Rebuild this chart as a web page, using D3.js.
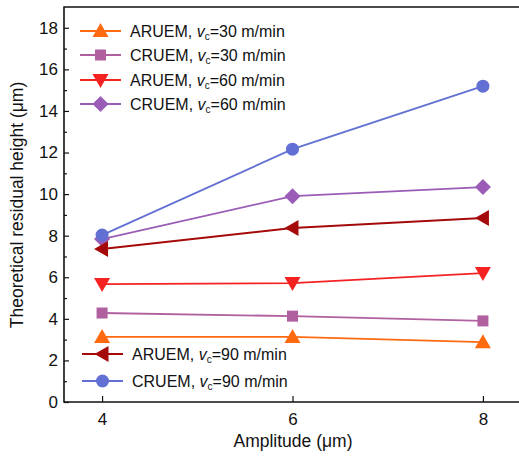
<!DOCTYPE html>
<html><head><meta charset="utf-8">
<script src="https://cdn.jsdelivr.net/npm/d3@7"></script>
<style>body{margin:0;background:#fff}svg{display:block}text{font-family:"Liberation Sans",Arial,sans-serif}</style>
</head><body><svg id="c" width="519" height="457"></svg>
<script>
const amplitudes = [4, 6, 8];
const seriesNames = ["ARUEM, vc=30 m/min","CRUEM, vc=30 m/min","ARUEM, vc=60 m/min","CRUEM, vc=60 m/min","ARUEM, vc=90 m/min","CRUEM, vc=90 m/min"];
const aruem30 = [3.13, 3.13, 2.88];
const cruem30 = [4.28, 4.13, 3.90];
const aruem60 = [5.67, 5.72, 6.20];
const cruem60 = [7.84, 9.90, 10.34];
const aruem90 = [7.36, 8.37, 8.85];
const cruem90 = [8.03, 12.16, 15.19];
const yTicks = [0,2,4,6,8,10,12,14,16,18];
const xTicks = [4,6,8];

const series = [
  {name:"ARUEM", vc:"30", vals:aruem30, color:"#ff6a10", sym:"tri-up"},
  {name:"CRUEM", vc:"30", vals:cruem30, color:"#b0609f", sym:"square"},
  {name:"ARUEM", vc:"60", vals:aruem60, color:"#f52222", sym:"tri-down"},
  {name:"CRUEM", vc:"60", vals:cruem60, color:"#9a5cb6", sym:"diamond"},
  {name:"ARUEM", vc:"90", vals:aruem90, color:"#a50a0a", sym:"tri-left"},
  {name:"CRUEM", vc:"90", vals:cruem90, color:"#6170d2", sym:"circle"}
];

const svg = d3.select("#c");
const L=64, T=7, B=402, R=521;
const x = d3.scaleLinear().domain([3.6, 8.4]).range([L, R]);
const y = d3.scaleLinear().domain([0, 19]).range([B, T]);

function marker(g, sym, cx, cy, color){
  const s=8;
  let p;
  if(sym==="circle"){ g.append("circle").attr("cx",cx).attr("cy",cy).attr("r",6.5).attr("fill",color); return; }
  if(sym==="square"){ g.append("rect").attr("x",cx-5.5).attr("y",cy-5.5).attr("width",11).attr("height",11).attr("fill",color); return; }
  if(sym==="tri-up") p=[[cx,cy-s],[cx+s,cy+s*0.75],[cx-s,cy+s*0.75]];
  if(sym==="tri-down") p=[[cx,cy+s],[cx+s,cy-s*0.75],[cx-s,cy-s*0.75]];
  if(sym==="tri-left") p=[[cx-s,cy],[cx+s*0.75,cy-s],[cx+s*0.75,cy+s]];
  if(sym==="diamond") p=[[cx,cy-8],[cx+8,cy],[cx,cy+8],[cx-8,cy]];
  g.append("polygon").attr("points",p.map(d=>d.join(",")).join(" ")).attr("fill",color);
}

// axes
const minor = d3.range(1,19,2);
const yAxis = svg.append("g").attr("transform",`translate(${L},0)`)
  .call(d3.axisLeft(y).tickValues(yTicks).tickSize(-5).tickPadding(6).tickFormat(d3.format("d")));
yAxis.select(".domain").remove();
yAxis.selectAll("text").attr("font-size",17).attr("fill","#111");
yAxis.selectAll("line").attr("stroke","#111").attr("stroke-width",1.2);
svg.append("g").attr("transform",`translate(${L},0)`)
  .call(d3.axisLeft(y).tickValues(minor).tickSize(-3).tickFormat(""))
  .call(g=>g.select(".domain").remove()).selectAll("line").attr("stroke","#111").attr("stroke-width",1.2);

const xAxis = svg.append("g").attr("transform",`translate(0,${B})`)
  .call(d3.axisBottom(x).tickValues(xTicks).tickSize(-6).tickPadding(11).tickFormat(d3.format("d")));
xAxis.select(".domain").remove();
xAxis.selectAll("text").attr("font-size",17).attr("fill","#111");
xAxis.selectAll("line").attr("stroke","#111").attr("stroke-width",1.2);

// frame
svg.append("path").attr("d",`M${R},${T}H${L}V${B}H${R}`).attr("fill","none").attr("stroke","#111").attr("stroke-width",1.6);

// lines
const line = d3.line().x((d,i)=>x(amplitudes[i])).y(d=>y(d));
series.forEach(s=>{
  svg.append("path").datum(s.vals).attr("d",line).attr("fill","none").attr("stroke",s.color).attr("stroke-width",1.8);
  const g=svg.append("g");
  s.vals.forEach((v,i)=>marker(g,s.sym,x(amplitudes[i]),y(v),s.color));
});

// legend
const legPos = [[80,31],[80,55],[80,80],[80,104],[82,354],[82,381]];
series.forEach((s,i)=>{
  const [lx,ly]=legPos[i];
  const g=svg.append("g");
  g.append("line").attr("x1",lx).attr("x2",lx+41).attr("y1",ly).attr("y2",ly).attr("stroke",s.color).attr("stroke-width",1.8);
  marker(g,s.sym,lx+20.5,ly,s.color);
  const t=g.append("text").attr("x",lx+50).attr("y",ly+6).attr("font-size",16).attr("fill","#111");
  t.append("tspan").text(s.name+", ");
  t.append("tspan").attr("font-style","italic").text("v");
  t.append("tspan").attr("font-size",10).attr("dy",3).text("c");
  t.append("tspan").attr("dy",-3).text("="+s.vc+" m/min");
});

// axis titles
svg.append("text").attr("x",293).attr("y",447).attr("text-anchor","middle").attr("font-size",17.5).attr("fill","#111").text("Amplitude (μm)");
svg.append("text").attr("transform","translate(23,205) rotate(-90)").attr("text-anchor","middle").attr("font-size",17.5).attr("fill","#111").text("Theoretical residual height (μm)");
</script></body></html>
